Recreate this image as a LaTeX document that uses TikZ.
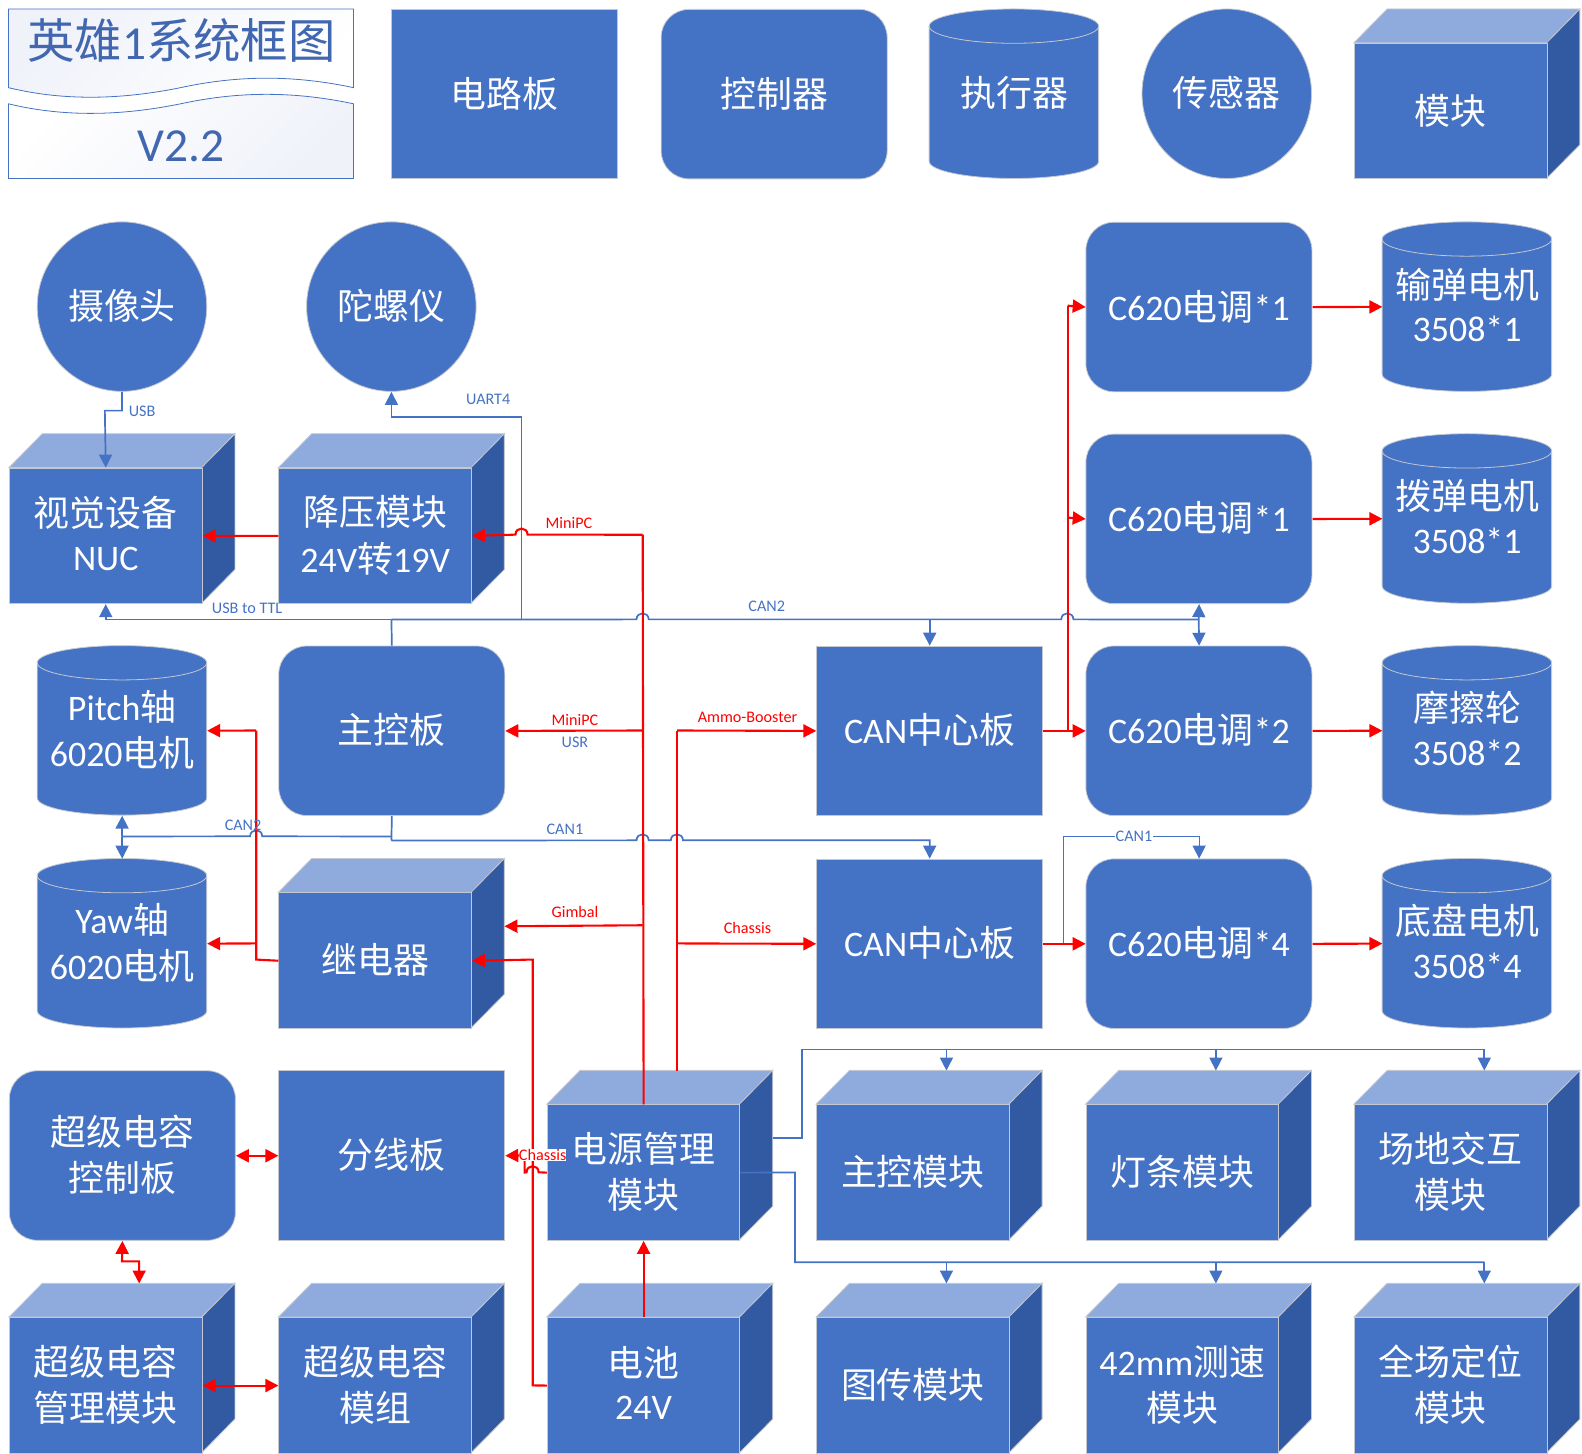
\documentclass[tikz,border=0pt]{standalone}
\usepackage{fontspec}
\setmainfont{Carlito}
\newfontfamily\cjkf{Noto Sans CJK SC}
\usetikzlibrary{arrows.meta}
\definecolor{bfill}{HTML}{4472C4}
\definecolor{btop}{HTML}{8FAADC}
\definecolor{bside}{HTML}{325AA2}
\definecolor{bedge}{HTML}{C4C8D0}
\definecolor{titlec}{HTML}{4167B1}
\definecolor{tint}{HTML}{F0F2FA}
\newcommand\cj[1]{\raisebox{0.6pt}[\height][\depth]{\cjkf #1}}
\newcommand\la[1]{\raisebox{0.6pt}[\height][\depth]{#1}}
\newcommand\up[1]{\raisebox{3.6pt}[\height][\depth]{#1}}
\tikzset{
  shapetxt/.style={text=white,align=center,inner sep=0pt,font=\fontsize{35.6}{46}\selectfont},
  cubefront/.style={shapetxt,rectangle,draw=bedge,fill=bfill,line width=.8pt,minimum width=191,minimum height=134.5,anchor=north west},
  plainbox/.style={shapetxt,rectangle,draw=bedge,fill=bfill,line width=.8pt,minimum width=224,minimum height=168,anchor=north west},
  roundbox/.style={plainbox,rounded corners=28},
  canbox/.style={shapetxt,rectangle,minimum width=168,minimum height=168,anchor=north west},
  circbox/.style={shapetxt,circle,draw=bedge,fill=bfill,line width=.8pt,minimum size=168},
  cubetop/.style={fill=btop,draw=bedge,line width=.8pt},
  cubeside/.style={fill=bside,draw=bedge,line width=.8pt},
  canbody/.style={fill=bfill,draw=bedge,line width=.8pt},
  bline/.style={draw=bfill,line width=1.7pt},
  bthin/.style={draw=bfill,line width=1.2pt},
  rline/.style={draw=red,line width=2.1pt},
  btip/.style={-{Triangle[length=13pt,width=13pt]}},
  rtip/.style={-{Triangle[length=13pt,width=13pt]}},
  rtwo/.style={{Triangle[length=13pt,width=13pt]}-{Triangle[length=13pt,width=13pt]}},
  blab/.style={text=bfill,font=\fontsize{16}{18}\selectfont,inner sep=1pt},
  rlab/.style={text=red,font=\fontsize{16}{18}\selectfont,inner sep=1pt},
  titletxt/.style={text=titlec,font=\fontsize{47}{50}\selectfont,inner sep=0pt},
  titlebox/.style={draw=bfill,line width=.8pt},
}
% name, x, y, text
\newcommand\cube[4]{%
  \fill[cubetop] (#2,{#3+33.5}) -- ({#2+33},#3) -- ({#2+224},#3) -- ({#2+191},{#3+33.5}) -- cycle;
  \fill[cubeside] ({#2+191},{#3+33.5}) -- ({#2+224},#3) -- ({#2+224},{#3+134.5}) -- ({#2+191},{#3+168}) -- cycle;
  \node[cubefront] (#1) at (#2,{#3+33.5}) {#4};
  \coordinate (#1-b) at ({#2+224},{#3+67});
  \coordinate (#1-t) at ({#2+129},#3);
}
\newcommand\can[4]{%
  \path[canbody] (#2,{#3+17}) -- (#2,{#3+151}) arc[start angle=180,end angle=360,x radius=84pt,y radius=17pt]
    -- ({#2+168},{#3+17}) arc[start angle=0,end angle=180,x radius=84pt,y radius=17pt] -- cycle;
  \draw[bedge,line width=.8pt] (#2,{#3+17}) arc[start angle=180,end angle=360,x radius=84pt,y radius=17pt];
  \node[canbox] (#1) at (#2,#3) {#4};
}
% horizontal line jump, left to right and right to left
\newcommand\hj[2]{-- ({#1-6},#2) .. controls ({#1-6},{#2-8}) and ({#1+6},{#2-8}) .. ({#1+6},#2)}
\newcommand\hjr[2]{-- ({#1+6},#2) .. controls ({#1+6},{#2-8}) and ({#1-6},{#2-8}) .. ({#1-6},#2)}
\begin{document}
\begin{tikzpicture}[x=1pt,y=-1pt,scale=1.00893,transform shape]
\useasboundingbox (0.1,0.1) rectangle (1568.1,1441.1);
% title
\shadedraw[titlebox,top color=tint,middle color=white,bottom color=white,shading angle=45]
  (8.5,9) -- (350.5,9) -- (350.5,87) .. controls (285,73) and (230,76) .. (179,87) .. controls (105,102) and (50,97) .. (8.5,87) -- cycle;
\shadedraw[titlebox,top color=white,middle color=white,bottom color=tint,shading angle=45]
  (8.5,103) .. controls (50,113) and (105,118) .. (179,103) .. controls (230,92) and (285,89) .. (350.5,103) -- (350.5,177) -- (8.5,177) -- cycle;
\node[titletxt] (tt1) at (180,41) {\cj{英雄}1\cj{系统框图}};
\node[titletxt] (tt2) at (179.5,145) {V2.2};
% legend
\node[plainbox] (lg1) at (388,9) {\cj{电路板}};
\node[roundbox] (lg2) at (655,9) {\cj{控制器}};
\can{lg3}{921}{9}{\cj{执行器}}
\node[circbox] (lg4) at (1216,93) {\cj{传感器}};
\cube{lg5}{1342}{9}{\cj{模块}}
% row A
\node[circbox] (cam) at (121,304) {\cj{摄像头}};
\node[circbox] (gyro) at (388,304) {\cj{陀螺仪}};
\node[roundbox] (esc1) at (1076,220) {\la{C620}\cj{电调}\la{*1}};
\can{feed}{1370}{220}{\cj{输弹电机}\\\up{3508*1}}
% row B
\cube{nuc}{9}{430}{\cj{视觉设备}\\\up{NUC}}
\cube{buck}{276}{430}{\cj{降压模块}\\\la{24V}\cj{转}\la{19V}}
\node[roundbox] (esc2) at (1076,430) {\la{C620}\cj{电调}\la{*1}};
\can{dial}{1370}{430}{\cj{拨弹电机}\\\up{3508*1}}
% row C
\can{pitch}{37}{640}{\la{Pitch}\cj{轴}\\\la{6020}\cj{电机}}
\node[roundbox] (mainb) at (276,640) {\cj{主控板}};
\node[plainbox] (cana) at (809,640) {\la{CAN}\cj{中心板}};
\node[roundbox] (esc3) at (1076,640) {\la{C620}\cj{电调}\la{*2}};
\can{fric}{1370}{640}{\cj{摩擦轮}\\\up{3508*2}}
% row D
\can{yaw}{37}{851}{\la{Yaw}\cj{轴}\\\la{6020}\cj{电机}}
\cube{relay}{276}{851}{\cj{继电器}}
\node[plainbox] (canb) at (809,851) {\la{CAN}\cj{中心板}};
\node[roundbox] (esc4) at (1076,851) {\la{C620}\cj{电调}\la{*4}};
\can{chas}{1370}{851}{\cj{底盘电机}\\\up{3508*4}}
% row E
\node[roundbox] (scc) at (9,1061) {\cj{超级电容}\\\cj{控制板}};
\node[plainbox] (split) at (276,1061) {\cj{分线板}};
\cube{pm}{542}{1061}{\cj{电源管理}\\\cj{模块}}
\cube{m1}{809}{1061}{\cj{主控模块}}
\cube{m2}{1076}{1061}{\cj{灯条模块}}
\cube{m3}{1342}{1061}{\cj{场地交互}\\\cj{模块}}
% row F
\cube{scm}{9}{1272}{\cj{超级电容}\\\cj{管理模块}}
\cube{capm}{276}{1272}{\cj{超级电容}\\\cj{模组}}
\cube{bat}{542}{1272}{\cj{电池}\\\up{24V}}
\cube{m4}{809}{1272}{\cj{图传模块}}
\cube{m5}{1076}{1272}{\la{42mm}\cj{测速}\\\cj{模块}}
\cube{m6}{1342}{1272}{\cj{全场定位}\\\cj{模块}}
% junctions
\coordinate (c2w) at (388,614);
\coordinate (c2u) at (517,614);
\coordinate (c2t) at (517,413);
\coordinate (c2e) at (1188,614);
\coordinate (usbk) at (121,407);
\coordinate (usbl) at (104,407);
\coordinate (ca) at (388,829);
\coordinate (cl) at (121,829);
\coordinate (cr) at (388,833);
\coordinate (pu) at (637,530);
\coordinate (pm1) at (637,724);
\coordinate (pm2) at (637,917);
\coordinate (am) at (671,724);
\coordinate (ch) at (671,935);
\coordinate (e1) at (1058,724);
\coordinate (e2) at (1058,513);
\coordinate (e3) at (1058,303);
\coordinate (y1) at (254,951);
\coordinate (y2) at (254,935);
\coordinate (y3) at (254,724);
\coordinate (b1) at (528,1373);
\coordinate (b2) at (528,951);
\coordinate (chs1) at (520,1162);
\coordinate (chs2) at (520,1145);
\coordinate (can1a) at (1054,935);
\coordinate (can1b) at (1054,829);
\coordinate (pw1) at (795,1128);
\coordinate (pw2) at (795,1040);
\coordinate (pw3) at (788,1162);
\coordinate (pw4) at (788,1251);
\coordinate (sc1) at (121,1250);
\coordinate (sc2) at (138,1250);
% blue connectors
\draw[bline,btip] (cam.south) -- (usbk) -- (usbl) -- (nuc.north);
\draw[bline] (mainb.north) -- (c2w);
\draw[bline,btip] (c2w) -| (nuc.south);
\draw[bline,btip] (c2u) -- (c2t) -| (gyro.south);
\draw[bline] (c2w) -- (c2u) \hj{637}{614} \hj{1058}{614} -- (c2e);
\draw[bline,btip] (c2e) -- (esc2.south);
\draw[bline,btip] (c2e) -- (esc3.north);
\draw[bline,btip] (cana.north |- c2w) -- (cana.north);
\draw[bline] (mainb.south) -- (cr);
\draw[bline] (cl) \hj{254}{829} -- (ca);
\draw[bline,btip] (cl) -- (pitch.south);
\draw[bline,btip] (cl) -- (yaw.north);
\draw[bline,btip] (cr) \hj{637}{833} \hj{671}{833} -| (canb.north);
\draw[bthin,btip] (can1a) -- (can1b) -| (esc4.north);
\draw[bline] (pm-b |- pw1) -- (pw1) -- (pw2);
\draw[bline] (pw2) -- (m3-t |- pw2);
\draw[bline,btip] (m1-t |- pw2) -- (m1-t);
\draw[bline,btip] (m2-t |- pw2) -- (m2-t);
\draw[bline,btip] (m3-t |- pw2) -- (m3-t);
\draw[bline] (pm.east) -- (pw3) -- (pw4) -- (m6-t |- pw4);
\draw[bline,btip] (m4-t |- pw4) -- (m4-t);
\draw[bline,btip] (m5-t |- pw4) -- (m5-t);
\draw[bline,btip] (m6-t |- pw4) -- (m6-t);
% red connectors
\draw[rline,rtip] (buck.west) -- (nuc.east);
\draw[rline] (pm.north) -- (pu);
\draw[rline,rtip] (pu) \hjr{517}{530} -- (buck.east);
\draw[rline,rtip] (pm1) -- (mainb.east);
\draw[rline,rtip] (pm2) -- (relay-b);
\draw[rline] (pm-t) -- (am);
\draw[rline,rtip] (am) -- (cana.west);
\draw[rline,rtip] (ch) -- (canb.west);
\draw[rline,rtip] (cana.east) -- (esc3.west);
\draw[rline] (e1) -- (e3);
\draw[rline,rtip] (e2) -- (esc2.west);
\draw[rline,rtip] (e3) -- (esc1.west);
\draw[rline,rtip] (canb.east) -- (esc4.west);
\draw[rline,rtip] (esc1.east) -- (feed.west);
\draw[rline,rtip] (esc2.east) -- (dial.west);
\draw[rline,rtip] (esc3.east) -- (fric.west);
\draw[rline,rtip] (esc4.east) -- (chas.west);
\draw[rline] (relay.west) -- (y1) -- (y3);
\draw[rline,rtip] (y3) -- (pitch.east);
\draw[rline,rtip] (y2) -- (yaw.east);
\draw[rline,rtip] (bat.west) -- (b1) -- (b2) -- (relay.east);
\draw[rline,rtip] (pm.west) \hjr{528}{1162} -- (chs1) -- (chs2) -- (split.east);
\draw[rline,rtip] (bat.north) -- (pm.south);
\draw[rline,rtwo] (scc.east) -- (split.west);
\draw[rline,rtwo] (scc.south) -- (sc1) -- (sc2) -- (scm-t);
\draw[rline,rtwo] (scm.east) -- (capm.west);
% labels
\node[blab] (lusb) at (141,408) {USB};
\node[blab] (luart) at (484,396) {UART4};
\node[blab] (lttl) at (245,603) {USB to TTL};
\node[blab] (lc2a) at (760,601) {CAN2};
\node[blab] (lc2b) at (241,818) {CAN2};
\node[blab] (lc1a) at (560,822) {CAN1};
\node[blab,fill=white] (lc1b) at (1124,829) {CAN1};
\node[blab] (lusr) at (570,736) {USR};
\node[rlab] (lmp1) at (564,518) {MiniPC};
\node[rlab] (lmp2) at (570,714) {MiniPC};
\node[rlab] (lam) at (741,711) {Ammo-Booster};
\node[rlab] (lgb) at (570,904) {Gimbal};
\node[rlab] (lch) at (741,920) {Chassis};
\node[rlab,fill=white,inner sep=0pt] (lch2) at (538,1145) {Chassis};
\end{tikzpicture}
\end{document}
